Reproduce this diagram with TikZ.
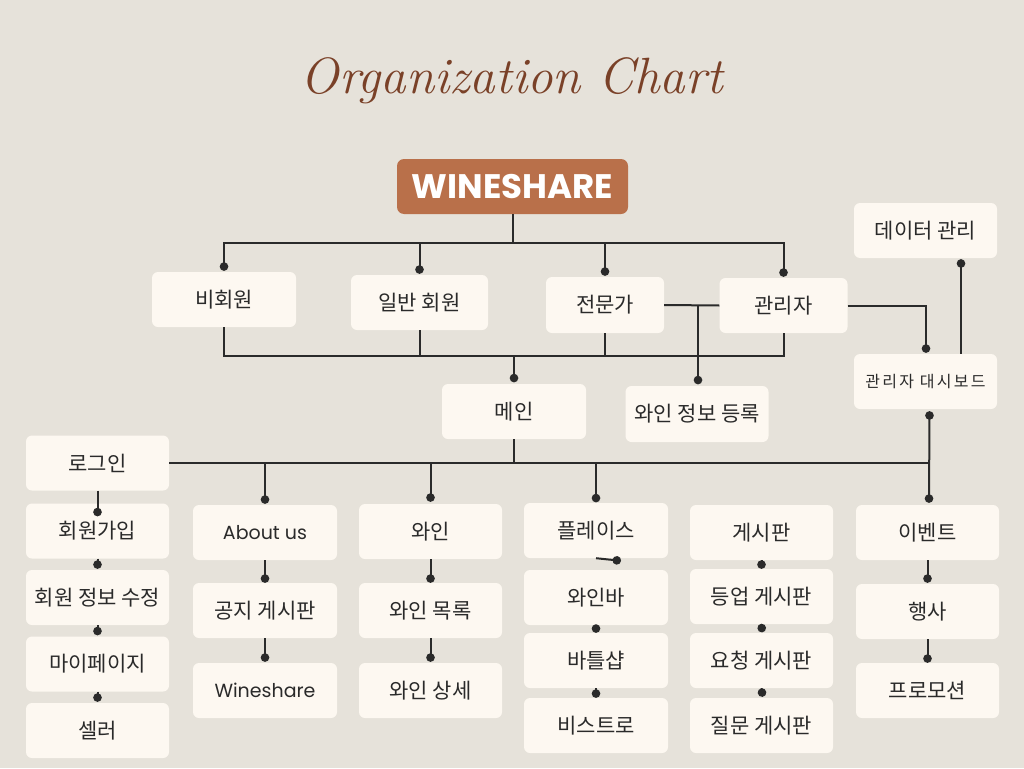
\documentclass[tikz,border=0pt]{standalone}
\usepackage{fontspec}
\usetikzlibrary{arrows.meta,calc}
\newfontfamily\kr{Noto Sans CJK KR}
\newfontfamily\krsp[LetterSpace=14]{Noto Sans CJK KR}
\newfontfamily\pop{Poppins}
\definecolor{bgc}{HTML}{E6E2DA}
\definecolor{boxc}{HTML}{FDF8F1}
\definecolor{winec}{HTML}{B9704A}
\definecolor{titlec}{HTML}{7A4128}
\definecolor{txt}{HTML}{2A2A2A}
\definecolor{linec}{HTML}{2A2A2A}
\begin{document}
\begin{tikzpicture}[x=1pt,y=-1pt,
  box/.style={fill=boxc, rounded corners=6pt, minimum width=143pt, minimum height=55pt, inner sep=0pt, text=txt, font=\kr\fontsize{21}{25}\selectfont},
  latin/.style={font=\pop\fontsize{19}{23}\selectfont},
  conn/.style={draw=linec, line width=2pt},
  dotend/.style={-{Circle[length=8.5pt,width=8.5pt]}},
  dotboth/.style={{Circle[length=8.5pt,width=8.5pt]}-{Circle[length=8.5pt,width=8.5pt]}}
]
\fill[bgc] (0,0) rectangle (1024,768);
\useasboundingbox (0,0) rectangle (1024,768);

\node[text=titlec, font=\itshape\fontsize{51}{55}\selectfont] (title) at (512,81) {Organization Chart};

\node[fill=winec, rounded corners=7pt, minimum width=231pt, minimum height=55pt, inner sep=0pt, text=white, font=\pop\bfseries\fontsize{34}{38}\selectfont] (wine) at (512.5,186.5) {WINESHARE};

% second level
\node[box, minimum width=144pt] (bihoe) at (224,299.5) {비회원};
\node[box, minimum width=137pt] (ilban) at (419.5,302.5) {일반 회원};
\node[box, minimum width=118pt, minimum height=56pt] (expert) at (605,305) {전문가};
\node[box, minimum width=128pt] (admin) at (783.5,305.5) {관리자};
\node[box] (data) at (925.5,230.5) {데이터 관리};
\node[box, font=\krsp\fontsize{16}{20}\selectfont] (dash) at (925.5,381.5) {관리자 대시보드};
\node[box, minimum width=144pt] (main) at (514,411.5) {메인};
\node[box, minimum height=56pt] (wreg) at (697,414) {와인 정보 등록};

% column 1
\node[box] (login) at (97.5,463) {로그인};
\node[box] (join) at (97.5,531) {회원가입};
\node[box] (edit) at (97.5,597.5) {회원 정보 수정};
\node[box] (mypage) at (97.5,664) {마이페이지};
\node[box] (seller) at (97.5,730.5) {셀러};
% column 2
\node[box, minimum width=144pt, latin] (about) at (265,532.5) {About us};
\node[box, minimum width=144pt] (notice) at (265,610.5) {공지 게시판};
\node[box, minimum width=144pt, latin] (wsh) at (265,690.5) {Wineshare};
% column 3
\node[box] (wn) at (430.5,531.5) {와인};
\node[box] (wlist) at (430.5,610.5) {와인 목록};
\node[box] (wdetail) at (430.5,690.5) {와인 상세};
% column 4
\node[box, minimum width=144pt] (place) at (596,530.5) {플레이스};
\node[box, minimum width=144pt] (bar) at (596,597.5) {와인바};
\node[box, minimum width=144pt] (bottle) at (596,660.5) {바틀샵};
\node[box, minimum width=144pt] (bistro) at (596,725.5) {비스트로};
% column 5
\node[box] (board) at (761.5,532.5) {게시판};
\node[box] (upg) at (761.5,596.5) {등업 게시판};
\node[box] (req) at (761.5,660.5) {요청 게시판};
\node[box] (qna) at (761.5,725.5) {질문 게시판};
% column 6
\node[box] (event) at (927.5,532.5) {이벤트};
\node[box] (fest) at (927.5,611.5) {행사};
\node[box] (promo) at (927.5,690.5) {프로모션};

% buses
\coordinate (busTop) at (0,243);
\coordinate (busMid) at (0,356);
\coordinate (busLow) at (0,463);
\coordinate (evx) at ($(event.north)+(1.5,0)$);
\coordinate (wregx) at ($(wreg.north)+(1,0)$);
\coordinate (wregtop) at ($(wreg.north)+(1,-1.5)$);

\foreach \n in {bihoe,ilban,expert,admin}
  \draw[conn,dotend] (wine.south) |- (\n.north |- busTop) -- ($(\n.north)+(0,-1)$);

\draw[conn] (bihoe.south) -- (bihoe.south |- busMid) -- (admin.south |- busMid) -- (admin.south);
\draw[conn] (ilban.south) -- (ilban.south |- busMid);
\draw[conn] (expert.south) -- (expert.south |- busMid);
\draw[conn,dotend] (main.north |- busMid) -- ($(main.north)+(0,-1.5)$);

\draw[conn] (expert.east) -- (admin.west);
\draw[conn,dotend] (wregx |- expert.east) -- (wregtop);
\draw[conn,dotend] (admin.east) -| ($(dash.north)+(0.5,-1)$);
\draw[conn,dotend] ($(dash.north)+(35.5,0)$) -- ($(data.south)+(35.5,1)$);
\draw[conn,dotboth] ($(dash.south)+(4,2)$) -- ($(evx)+(0,-2)$);

\draw[conn] (login.east) -- (login.east -| evx);
\draw[conn] (main.south) -- (main.south |- busLow);
\draw[conn,dotend] (about.north |- busLow) -- ($(about.north)+(0,-1)$);
\draw[conn,dotend] (wn.north |- busLow) -- ($(wn.north)+(0,-2)$);
\draw[conn,dotend] (place.north |- busLow) -- ($(place.north)+(0,-0.5)$);

% column chains
\draw[conn,dotend] (login.south) -- ($(join.north)+(0,13)$);
\draw[conn,dotend] (join.south) -- ($(edit.north)+(0,-1)$);
\draw[conn,dotend] (edit.south) -- ($(mypage.north)+(0,-1)$);
\draw[conn,dotend] (mypage.south) -- ($(seller.north)+(0,-1)$);

\draw[conn,dotend] (about.south) -- (notice.north);
\draw[conn,dotend] (notice.south) -- ($(wsh.north)+(0,-1)$);
\draw[conn,dotend] (wn.south) -- (wlist.north);
\draw[conn,dotend] (wlist.south) -- ($(wdetail.north)+(0,-1)$);

\draw[conn,dotend] (place.south) -- ($(bar.north)+(25,-9)$);
\draw[conn,dotend] (bar.south) -- (bottle.north);
\draw[conn,dotend] (bottle.south) -- (bistro.north);

\draw[conn,dotend] (board.south) -- (upg.north);
\draw[conn,dotend] (upg.south) -- ($(req.north)+(0.5,-0.5)$);
\draw[conn,dotend] (req.south) -- ($(qna.north)+(1,-1)$);

\draw[conn,dotend] (event.south) -- ($(fest.north)+(0,-1)$);
\draw[conn,dotend] (fest.south) -- (promo.north);
\end{tikzpicture}
\end{document}
